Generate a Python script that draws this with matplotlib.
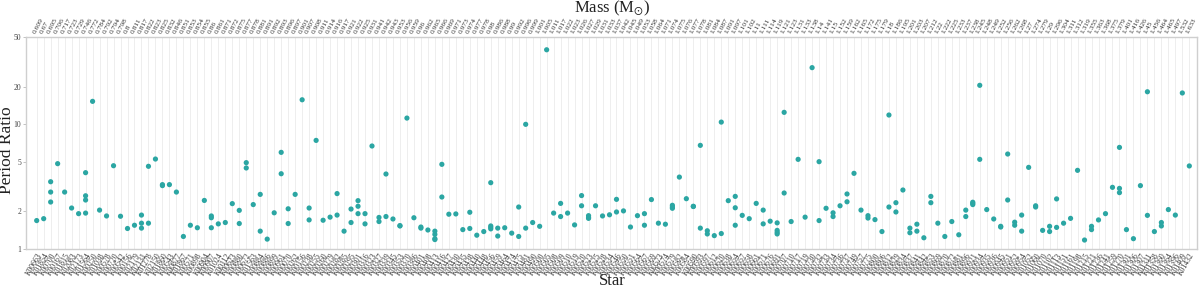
import matplotlib
matplotlib.use("Agg")
import matplotlib.pyplot as plt

plt.rcParams["font.family"] = ["Liberation Serif", "DejaVu Serif"]
plt.rcParams["mathtext.fontset"] = "stix"

# ---- data -------------------------------------------------------------
star_names = [
    "K00663", "K01854", "K00700", "K00167", "K01815", "K02083", "K02173", "K01564", "K00250", "K01038",
    "K00578", "K00720", "K00542", "K00156", "K02179", "K02131", "K01278", "K02150", "K01860", "K00543",
    "K00877", "K01867", "K00571", "K00898", "K00904", "K00907", "K01024", "K00112", "K00623", "K00880",
    "K00672", "K01563", "K00884", "K00886", "K00899", "K00961", "K00070", "K00262", "K00156", "K00238",
    "K00255", "K00260", "K00279", "K00282", "K00285", "K00295", "K00301", "K00316", "K00323", "K00327",
    "K00339", "K00345", "K00353", "K00370", "K00386", "K00401", "K00408", "K00413", "K00416", "K00427",
    "K00430", "K00435", "K00438", "K00440", "K00448", "K00456", "K00459", "K00464", "K00474", "K00475",
    "K00481", "K00490", "K00500", "K00505", "K00508", "K00509", "K00510", "K00519", "K00520", "K00523",
    "K00525", "K00528", "K00534", "K00546", "K00550", "K00551", "K00564", "K00567", "K00569", "K00573",
    "K00574", "K00579", "K00582", "K00584", "K00590", "K00593", "K00597", "K00612", "K00620", "K00638",
    "K00654", "K00657", "K00658", "K00661", "K00671", "K00676", "K00691", "K00707", "K00710", "K00717",
    "K00719", "K00730", "K00732", "K00733", "K00734", "K00736", "K00737", "K00749", "K00757", "K00775",
    "K00800", "K00806", "K00812", "K00829", "K00834", "K00837", "K00841", "K00842", "K00853", "K00869",
    "K00870", "K00872", "K00881", "K00896", "K00921", "K00934", "K00935", "K00936", "K00945", "K00951",
    "K00952", "K00954", "K01052", "K01060", "K01070", "K01102", "K01113", "K01151", "K01161", "K01198",
    "K01215", "K01221", "K01236", "K01241", "K01259", "K01270", "K01301", "K01306", "K01307", "K01311",
    "K01358", "K01360", "K01364", "K01396", "K01409", "K01432",
]

star_masses = [
    "0.609", "0.67", "0.695", "0.706", "0.717", "0.723", "0.729", "0.746", "0.772", "0.784",
    "0.792", "0.794", "0.798", "0.8", "0.811", "0.817", "0.822", "0.823", "0.825", "0.832",
    "0.846", "0.851", "0.853", "0.854", "0.855", "0.86", "0.861", "0.871", "0.872", "0.875",
    "0.877", "0.878", "0.881", "0.891", "0.892", "0.893", "0.896", "0.897", "0.901", "0.907",
    "0.908", "0.911", "0.914", "0.916", "0.917", "0.921", "0.922", "0.925", "0.931", "0.941",
    "0.942", "0.943", "0.953", "0.956", "0.959", "0.96", "0.962", "0.965", "0.966", "0.969",
    "0.971", "0.973", "0.974", "0.977", "0.978", "0.98", "0.986", "0.988", "0.99", "0.992",
    "0.996", "0.999", "1.001", "1.005", "1.011", "1.017", "1.022", "1.023", "1.026", "1.027",
    "1.029", "1.031", "1.033", "1.037", "1.042", "1.045", "1.049", "1.053", "1.058", "1.064",
    "1.071", "1.074", "1.075", "1.076", "1.077", "1.078", "1.081", "1.084", "1.087", "1.091",
    "1.097", "1.101", "1.102", "1.11", "1.111", "1.114", "1.119", "1.121", "1.123", "1.131",
    "1.133", "1.138", "1.14", "1.141", "1.15", "1.152", "1.159", "1.162", "1.165", "1.172",
    "1.175", "1.179", "1.18", "1.186", "1.195", "1.201", "1.203", "1.207", "1.212", "1.22",
    "1.222", "1.225", "1.233", "1.237", "1.238", "1.245", "1.248", "1.249", "1.252", "1.256",
    "1.262", "1.268", "1.27", "1.274", "1.279", "1.29", "1.296", "1.304", "1.311", "1.312",
    "1.319", "1.355", "1.363", "1.368", "1.375", "1.379", "1.401", "1.416", "1.426", "1.45",
    "1.456", "1.464", "1.465", "1.497", "1.532", "1.633",
]

period_ratios = [
    [1.69], [1.75], [3.46, 2.86, 2.38], [4.83], [2.86], [2.13], [1.92], [4.09, 2.67, 2.47, 1.94],
    [15.25], [2.05], [1.84], [4.65], [1.83], [1.46], [1.55], [1.87, 1.61, 1.47], [4.60, 1.61],
    [5.26], [3.28, 3.22], [3.28], [2.86], [1.26], [1.55], [1.48], [2.45], [1.84, 1.78, 1.48],
    [1.59], [1.63], [2.31], [2.04, 1.60], [4.92, 4.46], [2.27], [2.74, 1.39], [1.20], [1.95],
    [5.95, 4.01], [2.10, 1.60], [2.74], [15.7], [2.13, 1.71], [7.42], [1.70], [1.80], [2.78, 1.87],
    [1.39], [2.09, 1.63], [2.44, 2.20, 1.92], [1.92, 1.59], [6.69], [1.79, 1.66], [3.99, 1.82],
    [1.74], [1.54, 1.53], [11.2], [1.78], [1.50, 1.47], [1.42], [1.39, 1.31, 1.21, 1.19],
    [4.77, 2.61], [1.90], [1.91], [1.43], [1.97, 1.46], [1.29], [1.38], [3.40, 1.53, 1.49, 1.45],
    [1.47, 1.27], [1.48], [1.34], [2.17, 1.26], [9.98, 1.47], [1.63], [1.52], [39.5], [1.94],
    [2.32, 1.82], [1.94], [1.56], [2.68, 2.22], [1.85, 1.79, 1.76], [2.22], [1.84], [1.88],
    [2.50, 1.98], [2.02], [1.50], [1.85], [1.92, 1.55], [2.49], [1.61], [1.58], [2.24, 2.17, 2.12],
    [3.77], [2.53], [2.20, 2.19], [6.77, 1.47], [1.40, 1.32], [1.28], [10.4, 1.33], [2.44],
    [2.64, 2.14, 1.55], [1.86], [1.75], [2.32], [2.05, 1.59], [1.67], [1.62, 1.41, 1.36, 1.32],
    [12.45, 2.81], [1.66], [5.23], [1.80], [28.4], [5.01, 1.69], [2.12], [1.95, 1.82], [2.22],
    [2.76, 2.39], [4.04], [2.05], [1.85, 1.77], [1.72], [1.38], [11.85, 2.17], [2.35, 1.98],
    [2.97], [1.47, 1.35], [1.58, 1.39], [1.23], [2.64, 2.35], [1.61], [1.26], [1.66], [1.30],
    [2.05, 1.82], [2.37, 2.32, 2.27], [20.5, 5.23], [2.07], [1.74], [1.52, 1.50], [5.77, 2.47],
    [1.64, 1.55], [1.87, 1.39], [4.51], [2.22, 2.17], [1.41], [1.52, 1.38], [2.52, 1.49], [1.61],
    [1.76], [4.27], [1.18], [1.52, 1.43], [1.71], [1.92], [3.12], [6.52, 3.06, 2.83], [1.43],
    [1.21], [3.22], [18.2, 1.86], [1.38], [1.63, 1.53], [2.07], [1.87], [17.8], [4.63],
]

y_ticks = [1, 2, 5, 10, 20, 50]

# ---- figure -----------------------------------------------------------
W, H = 1200, 289
fig = plt.figure(figsize=(W / 100, H / 100), dpi=100)
left, right, top, bottom = 26, 1197, 37, 249
ax = fig.add_axes([left / W, 1 - bottom / H, (right - left) / W, (bottom - top) / H])

xs, ys = [], []
for i, vals in enumerate(period_ratios):
    for v in vals:
        xs.append(i)
        ys.append(v)

n = len(star_names)
ax.set_yscale("log")
ax.set_ylim(1, 50)
ax.set_xlim(-1.53, n + 0.1)

ax.scatter(xs, ys, s=14, color="#2ba6a3", edgecolors="none", zorder=3)

ax.set_xticks(range(n))
ax.set_xticklabels(star_names, rotation=60, ha="right", va="top",
                   rotation_mode="anchor", fontsize=5.6, color="#333333")
ax.tick_params(axis="x", length=0, pad=2)
ax.grid(axis="x", color="#ebebeb", linewidth=0.6, zorder=0)
ax.set_axisbelow(True)

ax.set_yticks(y_ticks)
ax.set_yticklabels([str(t) for t in y_ticks], fontsize=5.5, color="#444444")
ax.yaxis.set_minor_locator(plt.NullLocator())
ax.tick_params(axis="y", length=2, width=0.5, color="#aaaaaa", pad=1.5)

for sp in ax.spines.values():
    sp.set_color("#cfcfcf")
    sp.set_linewidth(1.0)

ax2 = ax.twiny()
ax2.set_xlim(ax.get_xlim())
ax2.set_xticks(range(n))
ax2.set_xticklabels(star_masses, rotation=62, ha="left", va="bottom",
                    rotation_mode="anchor", fontsize=5.4, color="#333333")
ax2.tick_params(axis="x", length=0, pad=2)
for sp in ax2.spines.values():
    sp.set_visible(False)

fig.text(7 / W, 1 - 150 / H, "Period Ratio", rotation=90, ha="center", va="center",
         fontsize=12.5, color="#222222")
fig.text(612 / W, 1 - 281 / H, "Star", ha="center", va="center", fontsize=12, color="#222222")
fig.text(612 / W, 1 - 8 / H, "Mass (M$_{\\odot}$)", ha="center", va="center",
         fontsize=12, color="#222222")

fig.savefig("out.png", dpi=100)
